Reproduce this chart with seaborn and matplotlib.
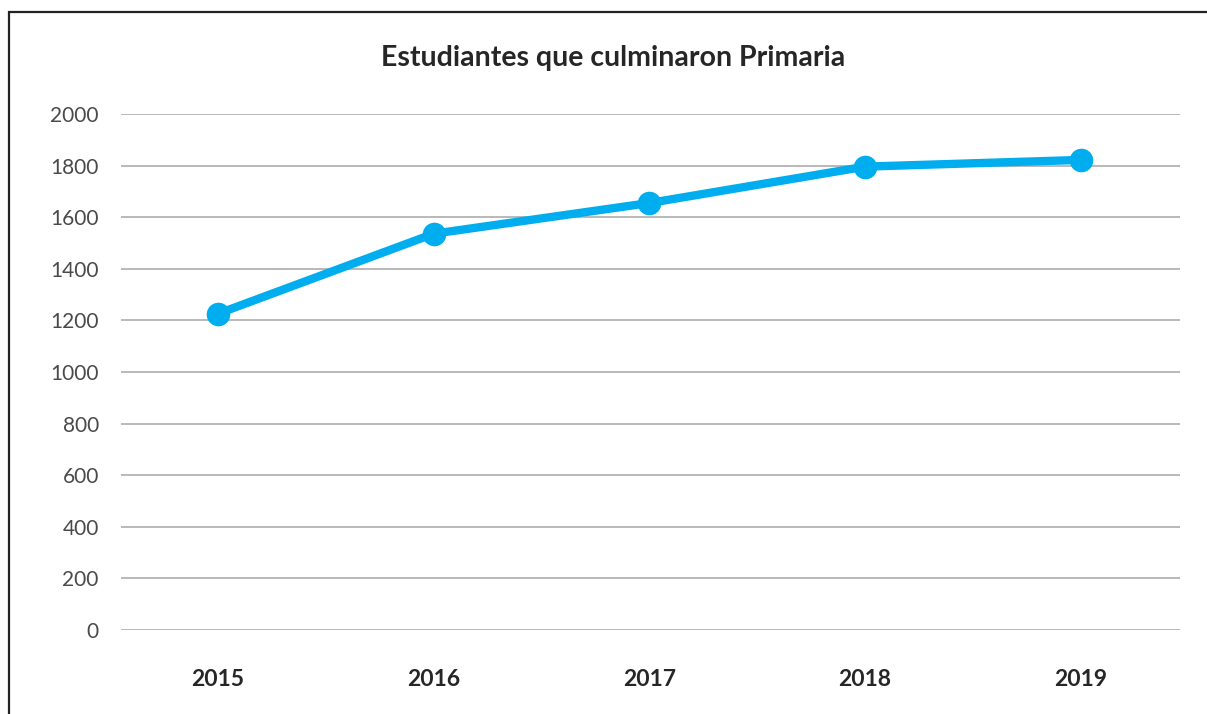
import matplotlib
matplotlib.use('Agg')
import matplotlib.pyplot as plt
import matplotlib.patches as patches
import seaborn as sns
import pandas as pd

# data
years = ['2015', '2016', '2017', '2018', '2019']
students = [1226, 1536, 1655, 1796, 1822]
yticks = [0, 200, 400, 600, 800, 1000, 1200, 1400, 1600, 1800, 2000]
title = 'Estudiantes que culminaron Primaria'

df = pd.DataFrame({'year': years, 'students': students})

sns.set_theme(style='white')
plt.rcParams['font.family'] = ['Lato', 'DejaVu Sans']

W, H = 1207, 714
fig = plt.figure(figsize=(W / 100, H / 100), dpi=100)
ax = fig.add_axes([121 / W, 1 - 630 / H, (1180 - 121) / W, (630 - 114) / H])

sns.lineplot(data=df, x='year', y='students', ax=ax, color='#00AEEF',
             linewidth=6, marker='o', markersize=17, markeredgewidth=0,
             zorder=3)

ax.set_ylim(0, 2000)
ax.set_yticks(yticks)
ax.set_xlim(-0.45, 4.46)
ax.yaxis.grid(True, color='#b3b3b3', linewidth=1.3)
ax.xaxis.grid(False)
for s in ax.spines.values():
    s.set_visible(False)
ax.tick_params(axis='y', length=0, pad=16, labelsize=15, labelcolor='#4a4a4a')
ax.tick_params(axis='x', length=0, pad=28, labelsize=16.5, labelcolor='#262626')
for lab in ax.get_yticklabels():
    lab.set_fontweight('normal')
for lab in ax.get_xticklabels():
    lab.set_fontweight('bold')
ax.set_xlabel('')
ax.set_ylabel('')

fig.text(613 / W, 1 - 58 / H, title, ha='center', va='center',
         fontsize=20.5, fontweight='bold', color='#262626')

# frame around the figure (only left and top visible in the crop)
rect = patches.Rectangle((9 / W, -0.2), 1.2, 1.2 - 12 / H,
                         transform=fig.transFigure, fill=False,
                         edgecolor='#222222', linewidth=1.6, clip_on=False)
fig.patches.append(rect)

fig.savefig('out.png', dpi=100)
